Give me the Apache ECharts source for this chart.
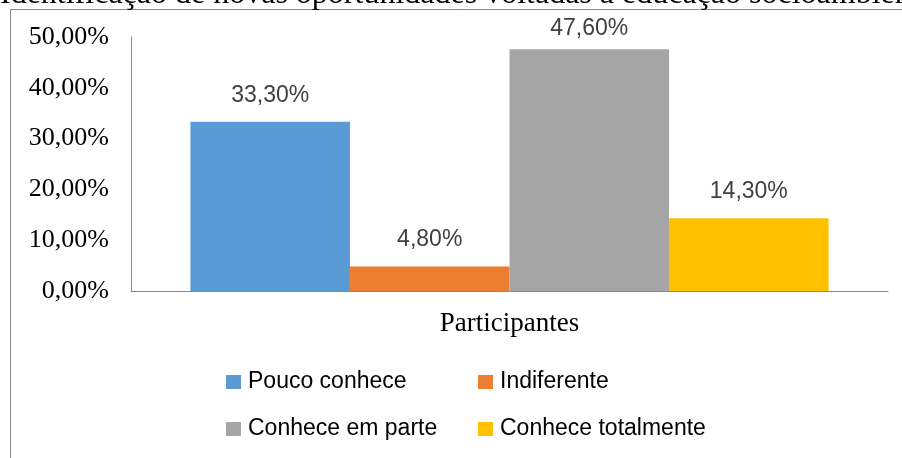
<!DOCTYPE html>
<html>
<head>
<meta charset="utf-8">
<script src="https://cdn.jsdelivr.net/npm/echarts@6/dist/echarts.min.js"></script>
<style>
  html, body { margin: 0; padding: 0; background: #fff; }
  #chart { width: 902px; height: 458px; }
</style>
</head>
<body>
<div id="chart"></div>
<script>
const categories = ['Participantes'];
const seriesNames = ['Pouco conhece', 'Indiferente', 'Conhece em parte', 'Conhece totalmente'];
const seriesValues = [[33.3], [4.8], [47.6], [14.3]];
const seriesColors = ['#5B9BD5', '#ED7D31', '#A5A5A5', '#FFC000'];
const yTicks = { min: 0, max: 50, interval: 10 };
const cutTitle = 'Identificação de novas oportunidades voltadas à educação socioambiental';

const pct = v => v.toFixed(2).replace('.', ',') + '%';

const chart = echarts.init(document.getElementById('chart'));

// the tallest bar's label sits closer to the bar (no room above the plot)
const labelDistance = [15, 15, 9, 15];

const series = seriesNames.map((name, i) => ({
  name: name,
  type: 'bar',
  data: seriesValues[i],
  barGap: '0%',
  barCategoryGap: '15.7%',
  itemStyle: { color: seriesColors[i] },
  label: {
    show: true,
    position: 'top',
    distance: labelDistance[i],
    formatter: p => pct(p.value),
    fontFamily: 'Liberation Sans',
    fontSize: 23,
    color: '#404040'
  }
}));

const legendText = {
  fontFamily: 'Liberation Sans',
  fontSize: 23,
  lineHeight: 24,
  color: '#000',
  padding: [0, 0, 0, 2]
};

chart.setOption({
  animation: false,
  grid: { left: 131, right: 14, top: 37, bottom: 167 },
  graphic: [
    {
      type: 'rect',
      shape: { x: 10.5, y: 9.5, width: 1000, height: 600 },
      style: { fill: 'none', stroke: '#8c8c8c', lineWidth: 1 },
      silent: true
    },
    {
      type: 'text',
      left: 0,
      top: -21,
      style: {
        text: cutTitle,
        font: '32px "Liberation Serif"',
        fill: '#000'
      },
      silent: true
    }
  ],
  legend: [
    {
      orient: 'vertical',
      left: 221,
      top: 365,
      itemWidth: 15,
      itemHeight: 14,
      itemGap: 23,
      icon: 'rect',
      data: [seriesNames[0], seriesNames[2]],
      textStyle: legendText
    },
    {
      orient: 'vertical',
      left: 473,
      top: 365,
      itemWidth: 15,
      itemHeight: 14,
      itemGap: 23,
      icon: 'rect',
      data: [seriesNames[1], seriesNames[3]],
      textStyle: legendText
    }
  ],
  xAxis: {
    type: 'category',
    data: categories,
    axisLine: { lineStyle: { color: '#898989', width: 1 } },
    axisTick: { show: false },
    axisLabel: {
      margin: 19,
      fontFamily: 'Liberation Serif',
      fontSize: 27,
      color: '#000'
    }
  },
  yAxis: {
    type: 'value',
    min: yTicks.min,
    max: yTicks.max,
    interval: yTicks.interval,
    axisLine: { show: true, lineStyle: { color: '#898989', width: 1 } },
    axisTick: { show: false },
    splitLine: { show: false },
    axisLabel: {
      margin: 22,
      formatter: v => pct(v),
      fontFamily: 'Liberation Serif',
      fontSize: 26,
      color: '#000'
    }
  },
  series: series
});
</script>
</body>
</html>
